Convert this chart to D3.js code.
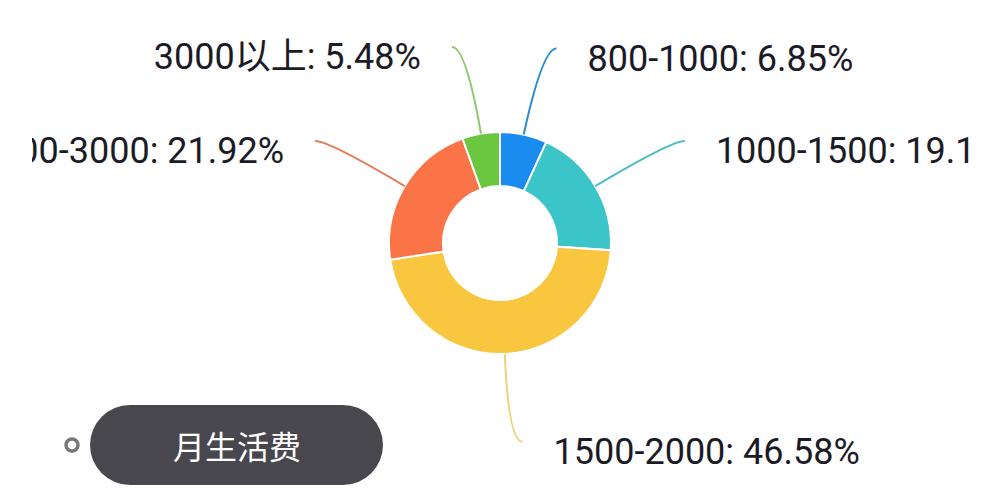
<!DOCTYPE html>
<html>
<head>
<meta charset="utf-8">
<script src="https://cdn.jsdelivr.net/npm/d3@7/dist/d3.min.js"></script>
<style>
  body { margin: 0; background: #fff; }
  svg { display: block; }
</style>
</head>
<body>
<div id="chart"></div>
<script>
// Data
// ==========
var categories = ["800-1000", "1000-1500", "1500-2000", "2000-3000", "3000以上"];
var percents = [6.85, 19.18, 46.58, 21.92, 5.48];
var sliceColors = ["#1a8cf0", "#3bc5c9", "#f9c640", "#fa7448", "#6bc640"];
var lineColors = ["#2b8ad6", "#4fbcc6", "#ecd27a", "#e0805e", "#8cc86e"];
var title = "月生活费";

var width = 1000, height = 500;
var cx = 500, cy = 243;
var outerR = 111, innerR = 57;
var len1 = 88, len2 = 14, labelGap = 31;

var svg = d3.select("#chart").append("svg")
  .attr("width", width)
  .attr("height", height);

// the picture is cropped on both sides, so clip the labels the same way
svg.append("clipPath").attr("id", "crop")
  .append("rect").attr("x", 32).attr("y", 0).attr("width", 938).attr("height", height);

var root = svg.append("g").attr("clip-path", "url(#crop)");

var rows = categories.map(function(c, i) { return { name: c, value: percents[i], i: i }; });

var pie = d3.pie().sort(null).value(function(d) { return d.value; });
var arc = d3.arc().innerRadius(innerR).outerRadius(outerR);
var arcs = pie(rows);

var g = root.append("g").attr("transform", "translate(" + cx + "," + cy + ")");

// slices
g.selectAll("path.slice")
  .data(arcs)
  .enter()
  .append("path")
  .attr("class", "slice")
  .attr("d", arc)
  .attr("fill", function(d) { return sliceColors[d.data.i]; })
  .attr("stroke", "#fff")
  .attr("stroke-width", 2);

// leader lines + labels
arcs.forEach(function(d) {
  var a = (d.startAngle + d.endAngle) / 2;
  var sx = Math.sin(a), sy = -Math.cos(a);
  var p0 = [outerR * sx, outerR * sy];
  var p1 = [(outerR + len1) * sx, (outerR + len1) * sy];
  var dir = sx >= 0 ? 1 : -1;
  var p2 = [p1[0] + dir * len2, p1[1]];

  var path = d3.path();
  path.moveTo(p0[0], p0[1]);
  path.quadraticCurveTo(p1[0], p1[1], p2[0], p2[1]);

  g.append("path")
    .attr("d", path.toString())
    .attr("fill", "none")
    .attr("stroke", lineColors[d.data.i])
    .attr("stroke-width", 2);

  g.append("text")
    .attr("x", p2[0] + dir * labelGap)
    .attr("y", p2[1] + 22)
    .attr("text-anchor", dir > 0 ? "start" : "end")
    .attr("font-family", "Roboto, 'Noto Sans CJK SC', sans-serif")
    .attr("font-size", 36)
    .attr("fill", "#1b1b26")
    .text(d.data.name + ": " + d.data.value.toFixed(2) + "%");
});

// title pill at the bottom left
svg.append("circle")
  .attr("cx", 72).attr("cy", 445).attr("r", 6)
  .attr("fill", "#fff")
  .attr("stroke", "#77767c")
  .attr("stroke-width", 3.5);

svg.append("rect")
  .attr("x", 90).attr("y", 405)
  .attr("width", 293).attr("height", 80)
  .attr("rx", 40)
  .attr("fill", "#48474d");

svg.append("text")
  .attr("x", 237).attr("y", 445)
  .attr("text-anchor", "middle")
  .attr("dominant-baseline", "central")
  .attr("font-family", "'Noto Sans CJK SC', sans-serif")
  .attr("font-size", 32)
  .attr("fill", "#fff")
  .text(title);
</script>
</body>
</html>
